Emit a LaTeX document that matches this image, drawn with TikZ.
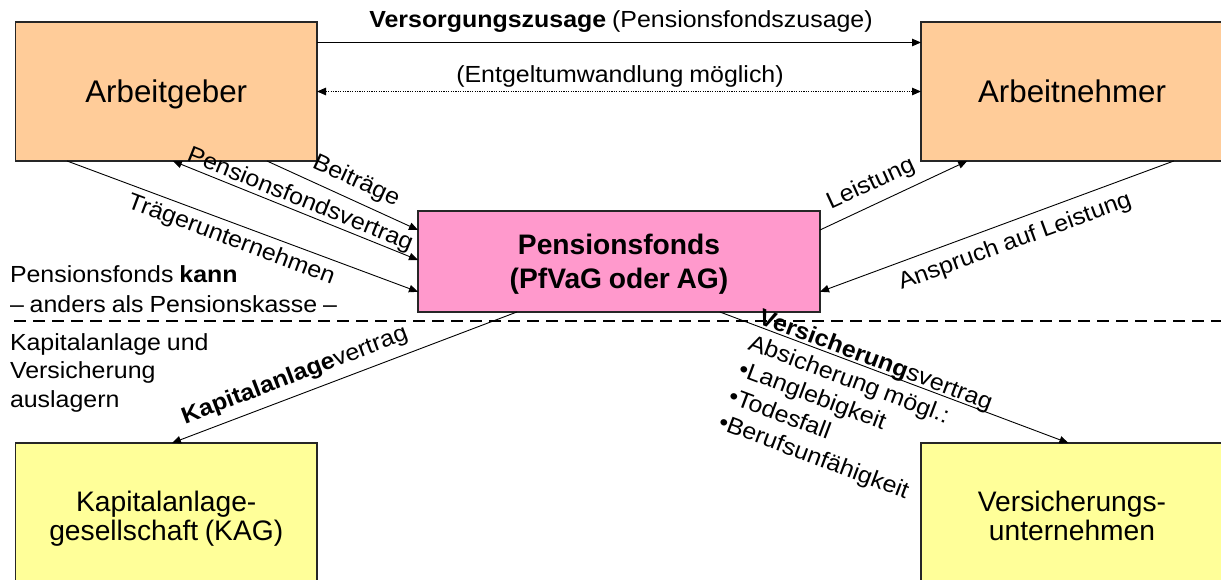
\documentclass[tikz,border=0pt]{standalone}
\usepackage{fontspec}
\setmainfont{Liberation Sans}[WordSpace=0.85]
\newfontfamily\lblfont{Liberation Sans}[FakeStretch=1.07, WordSpace=0.85]
\usetikzlibrary{arrows.meta,calc}
\definecolor{peach}{HTML}{FFCC99}
\definecolor{pinkfill}{HTML}{FF99CC}
\definecolor{yellowfill}{HTML}{FFFF99}
\newcommand\ppone{\vrule height .905em depth .212em width 0pt}
\newcommand\pptop{\vrule height .905em depth 0pt width 0pt}
\newcommand\ppbot{\vrule height 0pt depth .212em width 0pt}
\begin{document}
\begin{tikzpicture}[x=1pt,y=-1pt,
  box/.style={draw=black!85, line width=1.3pt, outer sep=0pt, inner sep=0pt, align=center},
  bigfont/.style={font=\fontsize{31.3}{36}\selectfont},
  midfont/.style={font=\fontsize{28.2}{29}\selectfont},
  conn/.style={line width=0.9pt, -{Triangle[length=9pt,width=7.5pt]}},
  both/.style={line width=0.9pt, {Triangle[length=9pt,width=7.5pt]}-{Triangle[length=9pt,width=7.5pt]}},
  lbl/.style={font=\lblfont\fontsize{23.3}{28}\selectfont, inner sep=0pt, outer sep=0pt},
]
\useasboundingbox (0,0) rectangle (1221,580);
\clip (0,0) rectangle (1221,580);

% boxes
\node[box, fill=peach, minimum width=301.5pt, minimum height=139pt, bigfont] (ag) at (166.25,91.5) {\ppone Arbeitgeber};
\node[box, fill=peach, minimum width=302pt, minimum height=139pt, bigfont] (an) at (1072,91.5) {\ppone Arbeitnehmer};
\node[box, fill=pinkfill, minimum width=402pt, minimum height=101pt, font=\bfseries\fontsize{28.2}{34}\selectfont] (pf) at (619,261.5) {\pptop Pensionsfonds\\(PfVaG oder AG)\ppbot};
\node[box, fill=yellowfill, minimum width=301.5pt, minimum height=146pt, midfont] (kag) at (166.25,516) {\pptop Kapitalanlage-\\gesellschaft (KAG)\ppbot};
\node[box, fill=yellowfill, minimum width=302pt, minimum height=146pt, midfont] (vu) at (1072,516) {\pptop Versicherungs-\\unternehmen\ppbot};

% dashed separator
\coordinate (dl) at (14,321);
\coordinate (dr) at (1221,321);
\draw[line width=2pt, dash pattern=on 12pt off 7pt] (dl) -- (dr);

% top connectors
\draw[conn] ($(ag.north east)+(0,20.5)$) -- ($(an.north west)+(0,20.5)$);
\draw[both, dash pattern=on 1.2pt off 1.2pt] (ag.east) -- (an.west);
\node[lbl, anchor=base] (t1) at (621,28) {\textbf{Versorgungszusage} (Pensionsfondszusage)};
\node[lbl, anchor=base] (t2) at (620,83) {(Entgeltumwandlung möglich)};

% Arbeitgeber -> Pensionsfonds
\draw[conn] ($(ag.south west)!0.834!(ag.south east)$) -- ($(pf.north west)!0.188!(pf.south west)$);
\draw[both] ($(ag.south west)!0.522!(ag.south east)$) -- ($(pf.north west)!0.485!(pf.south west)$);
\draw[conn] ($(ag.south west)!0.171!(ag.south east)$) -- ($(pf.north west)!0.80!(pf.south west)$);
\node[lbl, rotate=-24.7] (l1) at (356,181) {Beiträge};
\node[lbl, rotate=-21.9] (l2) at (300,200) {Pensionsfondsvertrag};
\node[lbl, rotate=-20.5] (l3) at (231,240) {Trägerunternehmen};

% Pensionsfonds <-> Arbeitnehmer
\draw[conn] ($(pf.north east)!0.188!(pf.south east)$) -- ($(an.south west)!0.153!(an.south east)$);
\draw[conn] ($(an.south west)!0.837!(an.south east)$) -- ($(pf.north east)!0.80!(pf.south east)$);
\node[lbl, rotate=24.8] (l4) at (871,184) {Leistung};
\node[lbl, rotate=20.1] (l5) at (1015,242) {Anspruch auf Leistung};

% lower connectors
\draw[conn] ($(pf.south west)!0.246!(pf.south east)$) -- ($(kag.north west)!0.519!(kag.north east)$);
\draw[conn] ($(pf.south west)!0.751!(pf.south east)$) -- ($(vu.north west)!0.488!(vu.north east)$);
\node[lbl, rotate=20.8] (l6) at (295,376) {\textbf{Kapitalanlage}vertrag};
\node[lbl, rotate=-20.6, anchor=base west] (v1) at (757,323) {\textbf{Versicherung}svertrag};
\node[lbl, rotate=-20.6, anchor=base west] (v2) at (747,349) {Absicherung mögl.:};
\node[lbl, rotate=-20.6, anchor=base west] (v3) at (737,375) {\textbullet Langlebigkeit};
\node[lbl, rotate=-20.6, anchor=base west] (v4) at (727,402) {\textbullet Todesfall};
\node[lbl, rotate=-20.6, anchor=base west] (v5) at (717,428) {\textbullet Berufsunfähigkeit};

% left free text
\node[lbl, anchor=base west] (s1) at (10,282) {Pensionsfonds \textbf{kann}};
\node[lbl, anchor=base west] (s2) at (10,312) {– anders als Pensionskasse –};
\node[lbl, anchor=base west] (s3) at (10,350) {Kapitalanlage und};
\node[lbl, anchor=base west] (s4) at (10,378) {Versicherung};
\node[lbl, anchor=base west] (s5) at (10,407) {auslagern};
\end{tikzpicture}
\end{document}
